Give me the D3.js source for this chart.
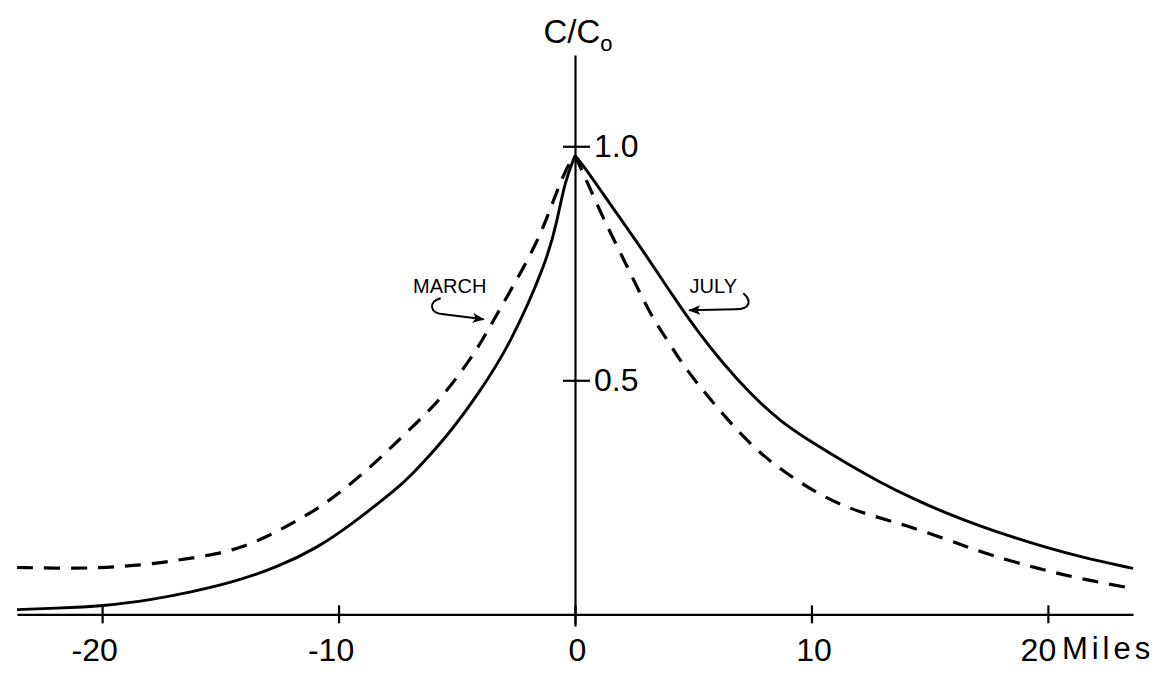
<!DOCTYPE html>
<html>
<head>

<meta charset="UTF-8">

<title>C/Co profile</title>

<style>
body, html {
	padding: 0;
	margin: 0;
	overflow: hidden;
	background-color: #ffffff;
}

svg {
	font-family: 'Liberation Sans', Arial, sans-serif;
}

.axis path, .axis line {
	stroke: #000000;
	stroke-width: 2.2;
}
</style>

<script src="https://cdn.jsdelivr.net/npm/d3@7/dist/d3.min.js"></script>

</head>

<body>

<div id="chart"></div>

<script>
// MARCH (dashed), distance in miles and C/Co
var marchX = [-23.6, -21, -19.8, -18.7, -17.5, -16.4, -15.2, -14.1, -13, -11.9, -10.8, -9.8, -8.8, -7.9, -7, -5.7, -4.14, -3.3, -1.6, -0.93, -0.34, 0,
	0.5, 1.18, 2.03, 3.2, 3.9, 4.5, 5.16, 5.96, 6.77, 7.8, 8.96, 10.2, 11.4, 12.6, 14, 15.5, 16.9, 18.2, 19.45, 20.6, 21.8, 23.6];
var marchY = [0.1, 0.098, 0.1, 0.104, 0.11, 0.119, 0.128, 0.143, 0.166, 0.196, 0.228, 0.266, 0.308, 0.35, 0.395, 0.457, 0.564, 0.642, 0.79, 0.883, 0.957, 0.98,
	0.926, 0.847, 0.762, 0.638, 0.587, 0.538, 0.494, 0.445, 0.398, 0.345, 0.3, 0.26, 0.23, 0.21, 0.19, 0.164, 0.138, 0.117, 0.1, 0.085, 0.072, 0.055];

// JULY (solid)
var julyX = [-23.6, -22, -20, -17.8, -16.3, -14.5, -12.6, -10.9, -9.5, -7.5, -7, -5.4, -4.1, -2.75, -1.18, -0.76, -0.42, 0,
	0.34, 1.48, 3.04, 4.14, 5.16, 6.26, 7.4, 8.67, 10.06, 11.5, 12.9, 14.3, 15.7, 17.1, 18.5, 19.9, 21.35, 23.6];
var julyY = [0.01, 0.013, 0.017, 0.032, 0.047, 0.068, 0.1, 0.142, 0.19, 0.27, 0.293, 0.38, 0.47, 0.575, 0.755, 0.84, 0.926, 0.98,
	0.96, 0.877, 0.765, 0.68, 0.606, 0.536, 0.472, 0.412, 0.366, 0.322, 0.282, 0.247, 0.216, 0.189, 0.165, 0.143, 0.123, 0.098];

var xTicks = [-20, -10, 0, 10, 20];
var yTicks = [0.5, 1.0];

var width = 1167;
var height = 677;

var svg = d3.select("#chart").append("svg")
	.attr("width", width)
	.attr("height", height);

var x = d3.scaleLinear().domain([-23.6, 23.6]).range([17, 1133]);
var y = d3.scaleLinear().domain([-0.025, 1.195]).range([626, 55]);

// arrow heads for the labels
svg.append("defs").append("marker")
	.attr("id", "head")
	.attr("markerUnits", "userSpaceOnUse")
	.attr("markerWidth", 12)
	.attr("markerHeight", 10)
	.attr("refX", 11)
	.attr("refY", 5)
	.attr("orient", "auto")
	.append("path")
	.attr("d", "M0,0 L12,5 L0,10 L3,5 Z")
	.attr("fill", "#000000");

// x axis, ticks cross the line
var xAxis = svg.append("g")
	.attr("class", "axis")
	.attr("transform", "translate(0," + y(0) + ")")
	.call(d3.axisBottom(x).tickValues(xTicks).tickSizeOuter(0).tickSizeInner(9).tickPadding(15).tickFormat(function(d) {return String(d)}));

xAxis.selectAll(".tick line").attr("y1", -9);
xAxis.selectAll(".tick text")
	.attr("font-size", "32px")
	.attr("font-family", "'Liberation Sans', Arial, sans-serif")
	.attr("fill", "#000000")
	.attr("dx", function(d) {return d < 0 ? "-8px" : (d == 20 ? "-10px" : "2px")});

xAxis.append("text")
	.attr("x", x(20) + 14)
	.attr("y", 45)
	.attr("font-size", "31px")
	.attr("letter-spacing", "4px")
	.attr("text-anchor", "start")
	.attr("fill", "#000000")
	.text("Miles");

// y axis in the middle
var yAxis = svg.append("g")
	.attr("class", "axis")
	.attr("transform", "translate(" + x(0) + ",0)")
	.call(d3.axisRight(y).tickValues(yTicks).tickSizeOuter(0).tickSizeInner(15).tickPadding(4).tickFormat(d3.format(".1f")));

yAxis.selectAll(".tick line").attr("x1", -12);
yAxis.selectAll(".tick text")
	.attr("font-size", "32px")
	.attr("font-family", "'Liberation Sans', Arial, sans-serif")
	.attr("fill", "#000000");

var title = svg.append("text")
	.attr("x", x(0) + 3)
	.attr("y", 43)
	.attr("text-anchor", "middle")
	.attr("font-size", "33px")
	.attr("fill", "#000000");
title.append("tspan").text("C/C");
title.append("tspan").attr("font-size", "22px").attr("dy", 8).text("o");

// curves, each side drawn apart so the peak stays sharp
var line = d3.line()
	.x(function(d) {return x(d[0])})
	.y(function(d) {return y(d[1])})
	.curve(d3.curveBasis);

function halves(xs, ys) {
	var pts = xs.map(function(v, i) {return [v, ys[i]]});
	return [pts.filter(function(d) {return d[0] <= 0}), pts.filter(function(d) {return d[0] >= 0})];
}

svg.append("g").selectAll("path").data(halves(marchX, marchY)).enter().append("path")
	.attr("d", line)
	.attr("fill", "none")
	.attr("stroke", "#000000")
	.attr("stroke-width", 3.2)
	.attr("stroke-dasharray", "16,11");

svg.append("g").selectAll("path").data(halves(julyX, julyY)).enter().append("path")
	.attr("d", line)
	.attr("fill", "none")
	.attr("stroke", "#000000")
	.attr("stroke-width", 2.9);

// labels with curly arrows
var mx = x(-5.3);
var jx = x(5.85);
var ly = y(0.703);

svg.append("text")
	.attr("x", mx)
	.attr("y", ly + 8)
	.attr("text-anchor", "middle")
	.attr("font-size", "20px")
	.attr("fill", "#000000")
	.text("MARCH");

svg.append("text")
	.attr("x", jx)
	.attr("y", ly + 8)
	.attr("text-anchor", "middle")
	.attr("font-size", "20px")
	.attr("fill", "#000000")
	.text("JULY");

svg.append("path")
	.attr("d", "M" + (mx - 9) + "," + (ly + 13) + " C" + (mx - 22) + "," + (ly + 17) + " " + (mx - 20) + "," + (ly + 28) + " " + (mx - 6) + "," + (ly + 29) + " L" + (mx + 34) + "," + (ly + 34))
	.attr("fill", "none")
	.attr("stroke", "#000000")
	.attr("stroke-width", 2)
	.attr("marker-end", "url(#head)");

svg.append("path")
	.attr("d", "M" + (jx + 30) + "," + (ly + 8) + " C" + (jx + 38) + "," + (ly + 15) + " " + (jx + 38) + "," + (ly + 24) + " " + (jx + 22) + "," + (ly + 24) + " L" + (jx - 24) + "," + (ly + 25))
	.attr("fill", "none")
	.attr("stroke", "#000000")
	.attr("stroke-width", 2)
	.attr("marker-end", "url(#head)");
</script>
</body>
</html>
